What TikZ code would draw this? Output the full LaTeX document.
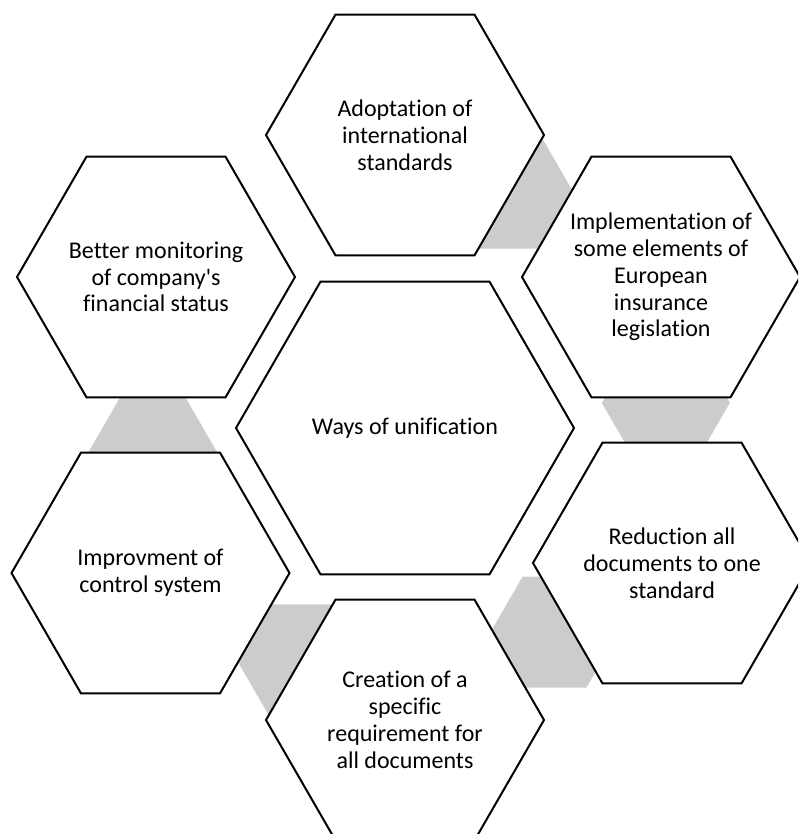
\documentclass[tikz,border=0pt]{standalone}
\usepackage{fontspec}
\setmainfont{Carlito}[Ligatures=NoCommon]
\usetikzlibrary{shapes.geometric,positioning,calc,backgrounds}

\tikzset{
    cell/.style={regular polygon, regular polygon sides=6, minimum size=139pt,
        draw, line width=1pt, fill=white, inner sep=-15pt, outer sep=0pt,
        align=center, font=\fontsize{12}{13.4}\selectfont},
    hub/.style={cell, minimum size=169pt},
    link/.style={regular polygon, regular polygon sides=6, minimum size=64pt,
        fill=gray!40, inner sep=0pt}
}

\begin{document}
\begin{tikzpicture}[x=0.5pt, y=-0.5pt, on grid]
    \useasboundingbox (0,0) rectangle (798,834);
    \clip (0,0) rectangle (798,834);
    \node[hub] (ways) at (405,428) {Ways of unification};
    \node[cell] (adoptation) [above=146.5pt of ways] {Adoptation of\\international\\standards};
    \node[cell] (european law) [above right=75.5pt and 128pt of ways] {Implementation of\\some elements of\\European\\insurance\\legislation};
    \node[cell] (one standard) [below right=67.5pt and 133.5pt of ways] {Reduction all\\documents to one\\standard};
    \node[cell] (requirement) [below=146pt of ways] {Creation of a\\specific\\requirement for\\all documents};
    \node[cell] (control) [below left=72.5pt and 127.25pt of ways] {Improvment of\\control system};
    \node[cell] (monitoring) [above left=75.5pt and 124.5pt of ways] {Better monitoring\\of company\textquotesingle{}s\\financial status};
    % 灰色小六边形放在背景层，被白色的六边形挡住一部分
    \begin{scope}[on background layer]
        \node[link] (link a) at ($(adoptation)!0.41!(european law)$) {};
        \node[link] (link b) at ($(european law)!0.44!(one standard)$) {};
        \node[link] (link c) at ($(one standard)!0.44!(requirement)$) {};
        \node[link] (link d) at ($(requirement)!0.41!(control)$) {};
        \node[link] (link e) at ($(control)!0.41!(monitoring)$) {};
    \end{scope}
\end{tikzpicture}
\end{document}
